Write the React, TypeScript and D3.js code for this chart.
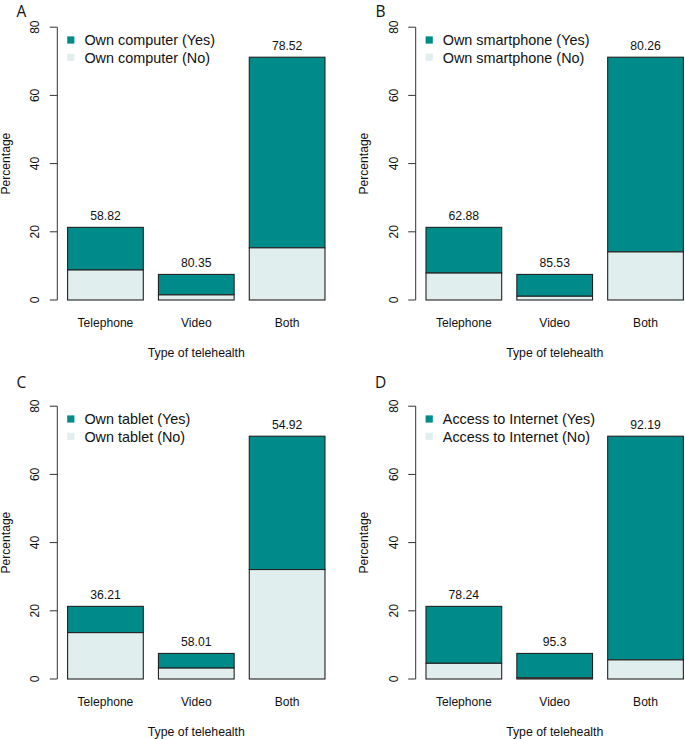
import React from "react";
import * as d3 from "d3";

const categories = ["Telephone", "Video", "Both"];
const totals = [21.3, 7.5, 71.2];
const yTicks = [0, 20, 40, 60, 80];

const panelLetters = ["A", "B", "C", "D"];
const legendNames = ["Own computer", "Own smartphone", "Own tablet", "Access to Internet"];

const labelsA = ["58.82", "80.35", "78.52"];
const labelsB = ["62.88", "85.53", "80.26"];
const labelsC = ["36.21", "58.01", "54.92"];
const labelsD = ["78.24", "95.3", "92.19"];

const noA = [8.8, 1.5, 15.3];
const noB = [7.9, 1.1, 14.1];
const noC = [13.6, 3.2, 32.1];
const noD = [4.6, 0.35, 5.6];

const panelLabels = [labelsA, labelsB, labelsC, labelsD];
const panelNo = [noA, noB, noC, noD];

const YES_COLOR = "#008B8B";
const NO_COLOR = "#E0EEEE";
const FONT = "'Liberation Sans', Arial, Helvetica, sans-serif";

// layout
const panelAxisX = [57.3, 415.7, 57.3, 415.7];
const panelBase = [300, 300, 679, 679];
const panelLetterPos = [
  [16.5, 17],
  [375.5, 17],
  [16.5, 388],
  [375, 388],
];
const UNIT = 75.7;
const PLOT_H = 272.8;

function Panel({ idx }: { idx: number }) {
  const axisX = panelAxisX[idx];
  const base = panelBase[idx];
  const x = d3
    .scaleLinear()
    .domain([0.064, 3.736])
    .range([axisX, axisX + 3.672 * UNIT]);
  const y = d3.scaleLinear().domain([0, 80]).range([base, base - PLOT_H]);
  const labels = panelLabels[idx];
  const no = panelNo[idx];
  const firstBarX = x(0.2);
  const plotCx = (x.range()[0] + x.range()[1]) / 2;
  const legTop = y(80);
  const name = legendNames[idx];
  const [lx, ly] = panelLetterPos[idx];

  return (
    <g>
      <text x={lx} y={ly} fontFamily="'Open Sans', sans-serif" fontSize={15.5} fill="#111">
        {panelLetters[idx]}
      </text>
      {/* bars */}
      {categories.map((c, i) => {
        const x0 = x(0.2 + i * 1.2);
        const x1 = x(1.2 + i * 1.2);
        const w = x1 - x0;
        return (
          <g key={c}>
            <rect x={x0} y={y(totals[i])} width={w} height={y(no[i]) - y(totals[i])} fill={YES_COLOR} stroke="#222" strokeWidth={1.1} />
            <rect x={x0} y={y(no[i])} width={w} height={y(0) - y(no[i])} fill={NO_COLOR} stroke="#222" strokeWidth={1.1} />
            <text x={(x0 + x1) / 2} y={y(totals[i]) - 7.5} textAnchor="middle" fontFamily={FONT} fontSize={12.2} fill="#111">
              {labels[i]}
            </text>
            <text x={(x0 + x1) / 2} y={base + 27.3} textAnchor="middle" fontFamily={FONT} fontSize={12.1} fill="#111">
              {c}
            </text>
          </g>
        );
      })}
      {/* y axis */}
      <line x1={axisX} x2={axisX} y1={y(0)} y2={y(80)} stroke="#333" strokeWidth={1} />
      {yTicks.map((t) => (
        <g key={t}>
          <line x1={axisX - 7.5} x2={axisX} y1={y(t)} y2={y(t)} stroke="#333" strokeWidth={1} />
          <text
            transform={`translate(${axisX - 18},${y(t)}) rotate(-90)`}
            textAnchor="middle"
            fontFamily={FONT}
            fontSize={12}
            fill="#111"
          >
            {t}
          </text>
        </g>
      ))}
      <text
        transform={`translate(${axisX - 47.8},${(y(0) + y(80)) / 2}) rotate(-90)`}
        textAnchor="middle"
        fontFamily={FONT}
        fontSize={12.1}
        fill="#111"
      >
        Percentage
      </text>
      <text x={plotCx} y={base + 56.5} textAnchor="middle" fontFamily={FONT} fontSize={12.3} fill="#111">
        Type of telehealth
      </text>
      {/* legend */}
      <rect x={firstBarX - 0.4} y={legTop + 9.2} width={7.2} height={7.2} fill={YES_COLOR} />
      <text x={firstBarX + 16.8} y={legTop + 18} fontFamily={FONT} fontSize={14.4} fill="#111">
        {name} (Yes)
      </text>
      <rect x={firstBarX - 0.4} y={legTop + 26.5} width={7.2} height={7.2} fill={NO_COLOR} />
      <text x={firstBarX + 16.8} y={legTop + 35.3} fontFamily={FONT} fontSize={14.4} fill="#111">
        {name} (No)
      </text>
    </g>
  );
}

export default function App() {
  return (
    <svg
      width={685}
      height={739}
      viewBox="0 0 685 739"
      style={{ position: "absolute", left: 0, top: 0, background: "#fff" }}
    >
      <rect width={685} height={739} fill="#fff" />
      {panelLetters.map((_, i) => (
        <Panel key={i} idx={i} />
      ))}
    </svg>
  );
}
